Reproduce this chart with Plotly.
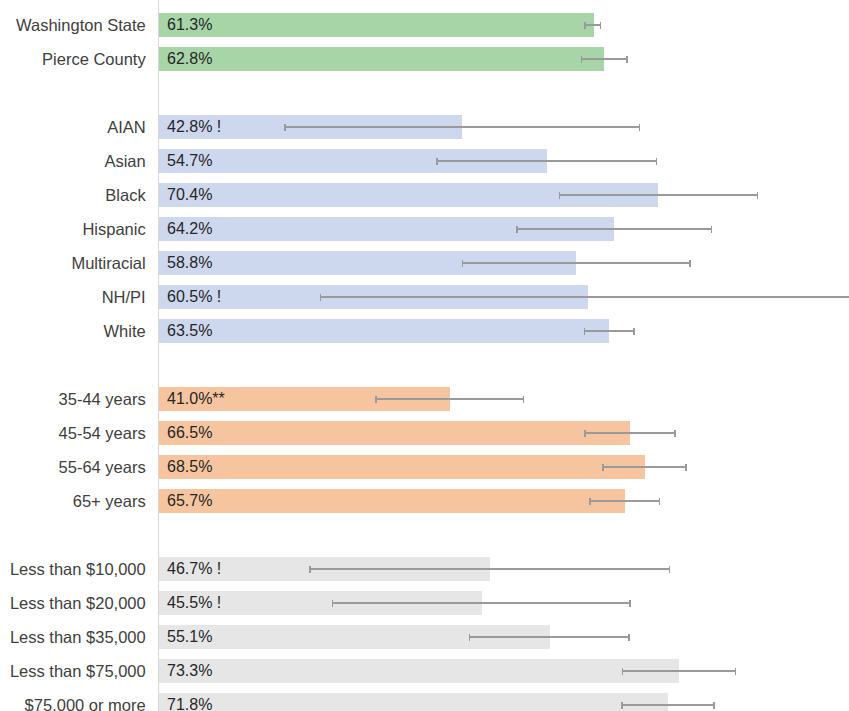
import plotly.graph_objects as go

# ---- data ----
categories = ["Washington State", "Pierce County",
              "AIAN", "Asian", "Black", "Hispanic", "Multiracial", "NH/PI", "White",
              "35-44 years", "45-54 years", "55-64 years", "65+ years",
              "Less than $10,000", "Less than $20,000", "Less than $35,000",
              "Less than $75,000", "$75,000 or more"]
groups = ["geo", "geo",
          "race", "race", "race", "race", "race", "race", "race",
          "age", "age", "age", "age",
          "income", "income", "income", "income", "income"]
values = [61.3, 62.8,
          42.8, 54.7, 70.4, 64.2, 58.8, 60.5, 63.5,
          41.0, 66.5, 68.5, 65.7,
          46.7, 45.5, 55.1, 73.3, 71.8]
ci_lower = [60.1, 59.6,
            17.8, 39.2, 56.5, 50.5, 42.8, 22.8, 60.0,
            30.6, 60.1, 62.6, 60.8,
            21.3, 24.5, 43.8, 65.4, 65.3]
ci_upper = [62.3, 66.0,
            67.8, 70.2, 84.4, 77.9, 74.9, 100.0, 67.0,
            51.4, 72.8, 74.3, 70.6,
            72.0, 66.4, 66.3, 81.3, 78.3]
flags = ["", "",
         " !", "", "", "", "", " !", "",
         "**", "", "", "",
         " !", " !", "", "", ""]
group_colors = {"geo": "#a8d5a8", "race": "#cdd7ee", "age": "#f6c5a0", "income": "#e6e6e6"}

# ---- row positions (blank row between groups) ----
ypos = []
row = 0
prev = None
for g in groups:
    if prev is not None and g != prev:
        row += 1
    ypos.append(row)
    row += 1
    prev = g

W, H = 849, 711
left = 159
row_px = 34
first_center_px = 25
span_rows = H / row_px
y_top = -first_center_px / row_px
y_bottom = y_top + span_rows
x_max = (W - left) / 7.09

FONT = "Liberation Sans, Arial, sans-serif"

fig = go.Figure()
fig.add_trace(go.Bar(
    y=ypos, x=values, orientation="h",
    marker=dict(color=[group_colors[g] for g in groups], line=dict(width=0)),
    width=0.7,
    error_x=dict(type="data", symmetric=False,
                 array=[u - v for u, v in zip(ci_upper, values)],
                 arrayminus=[v - l for v, l in zip(values, ci_lower)],
                 color="#9a9a9a", thickness=1.5, width=3.5),
    hoverinfo="skip",
))

for y, v, f in zip(ypos, values, flags):
    fig.add_annotation(x=0, y=y, xref="x", yref="y", text=f"{v:.1f}%{f}",
                       showarrow=False, xanchor="left", yanchor="middle", xshift=6, yshift=1,
                       font=dict(family=FONT, size=16, color="#262626"))

fig.update_layout(
    width=W, height=H,
    margin=dict(l=left, r=0, t=0, b=0),
    plot_bgcolor="white", paper_bgcolor="white",
    showlegend=False,
    bargap=0,
    font=dict(family=FONT, size=16, color="#404040"),
)
fig.update_xaxes(range=[0, x_max], showgrid=False, zeroline=False, showticklabels=False,
                 showline=False, fixedrange=True, automargin=False)
fig.update_yaxes(range=[y_bottom, y_top], tickvals=ypos, ticktext=categories,
                 showgrid=False, zeroline=False, showline=True, linecolor="#d9d9d9",
                 linewidth=1, ticks="", ticklabelstandoff=9, ticklabeloverflow="allow",
                 automargin=False,
                 tickfont=dict(size=16.5, color="#404040"), fixedrange=True)

fig.write_html("out.html", config={"displayModeBar": False},
               post_script="document.body.style.margin='0';document.body.style.overflow='hidden';")
